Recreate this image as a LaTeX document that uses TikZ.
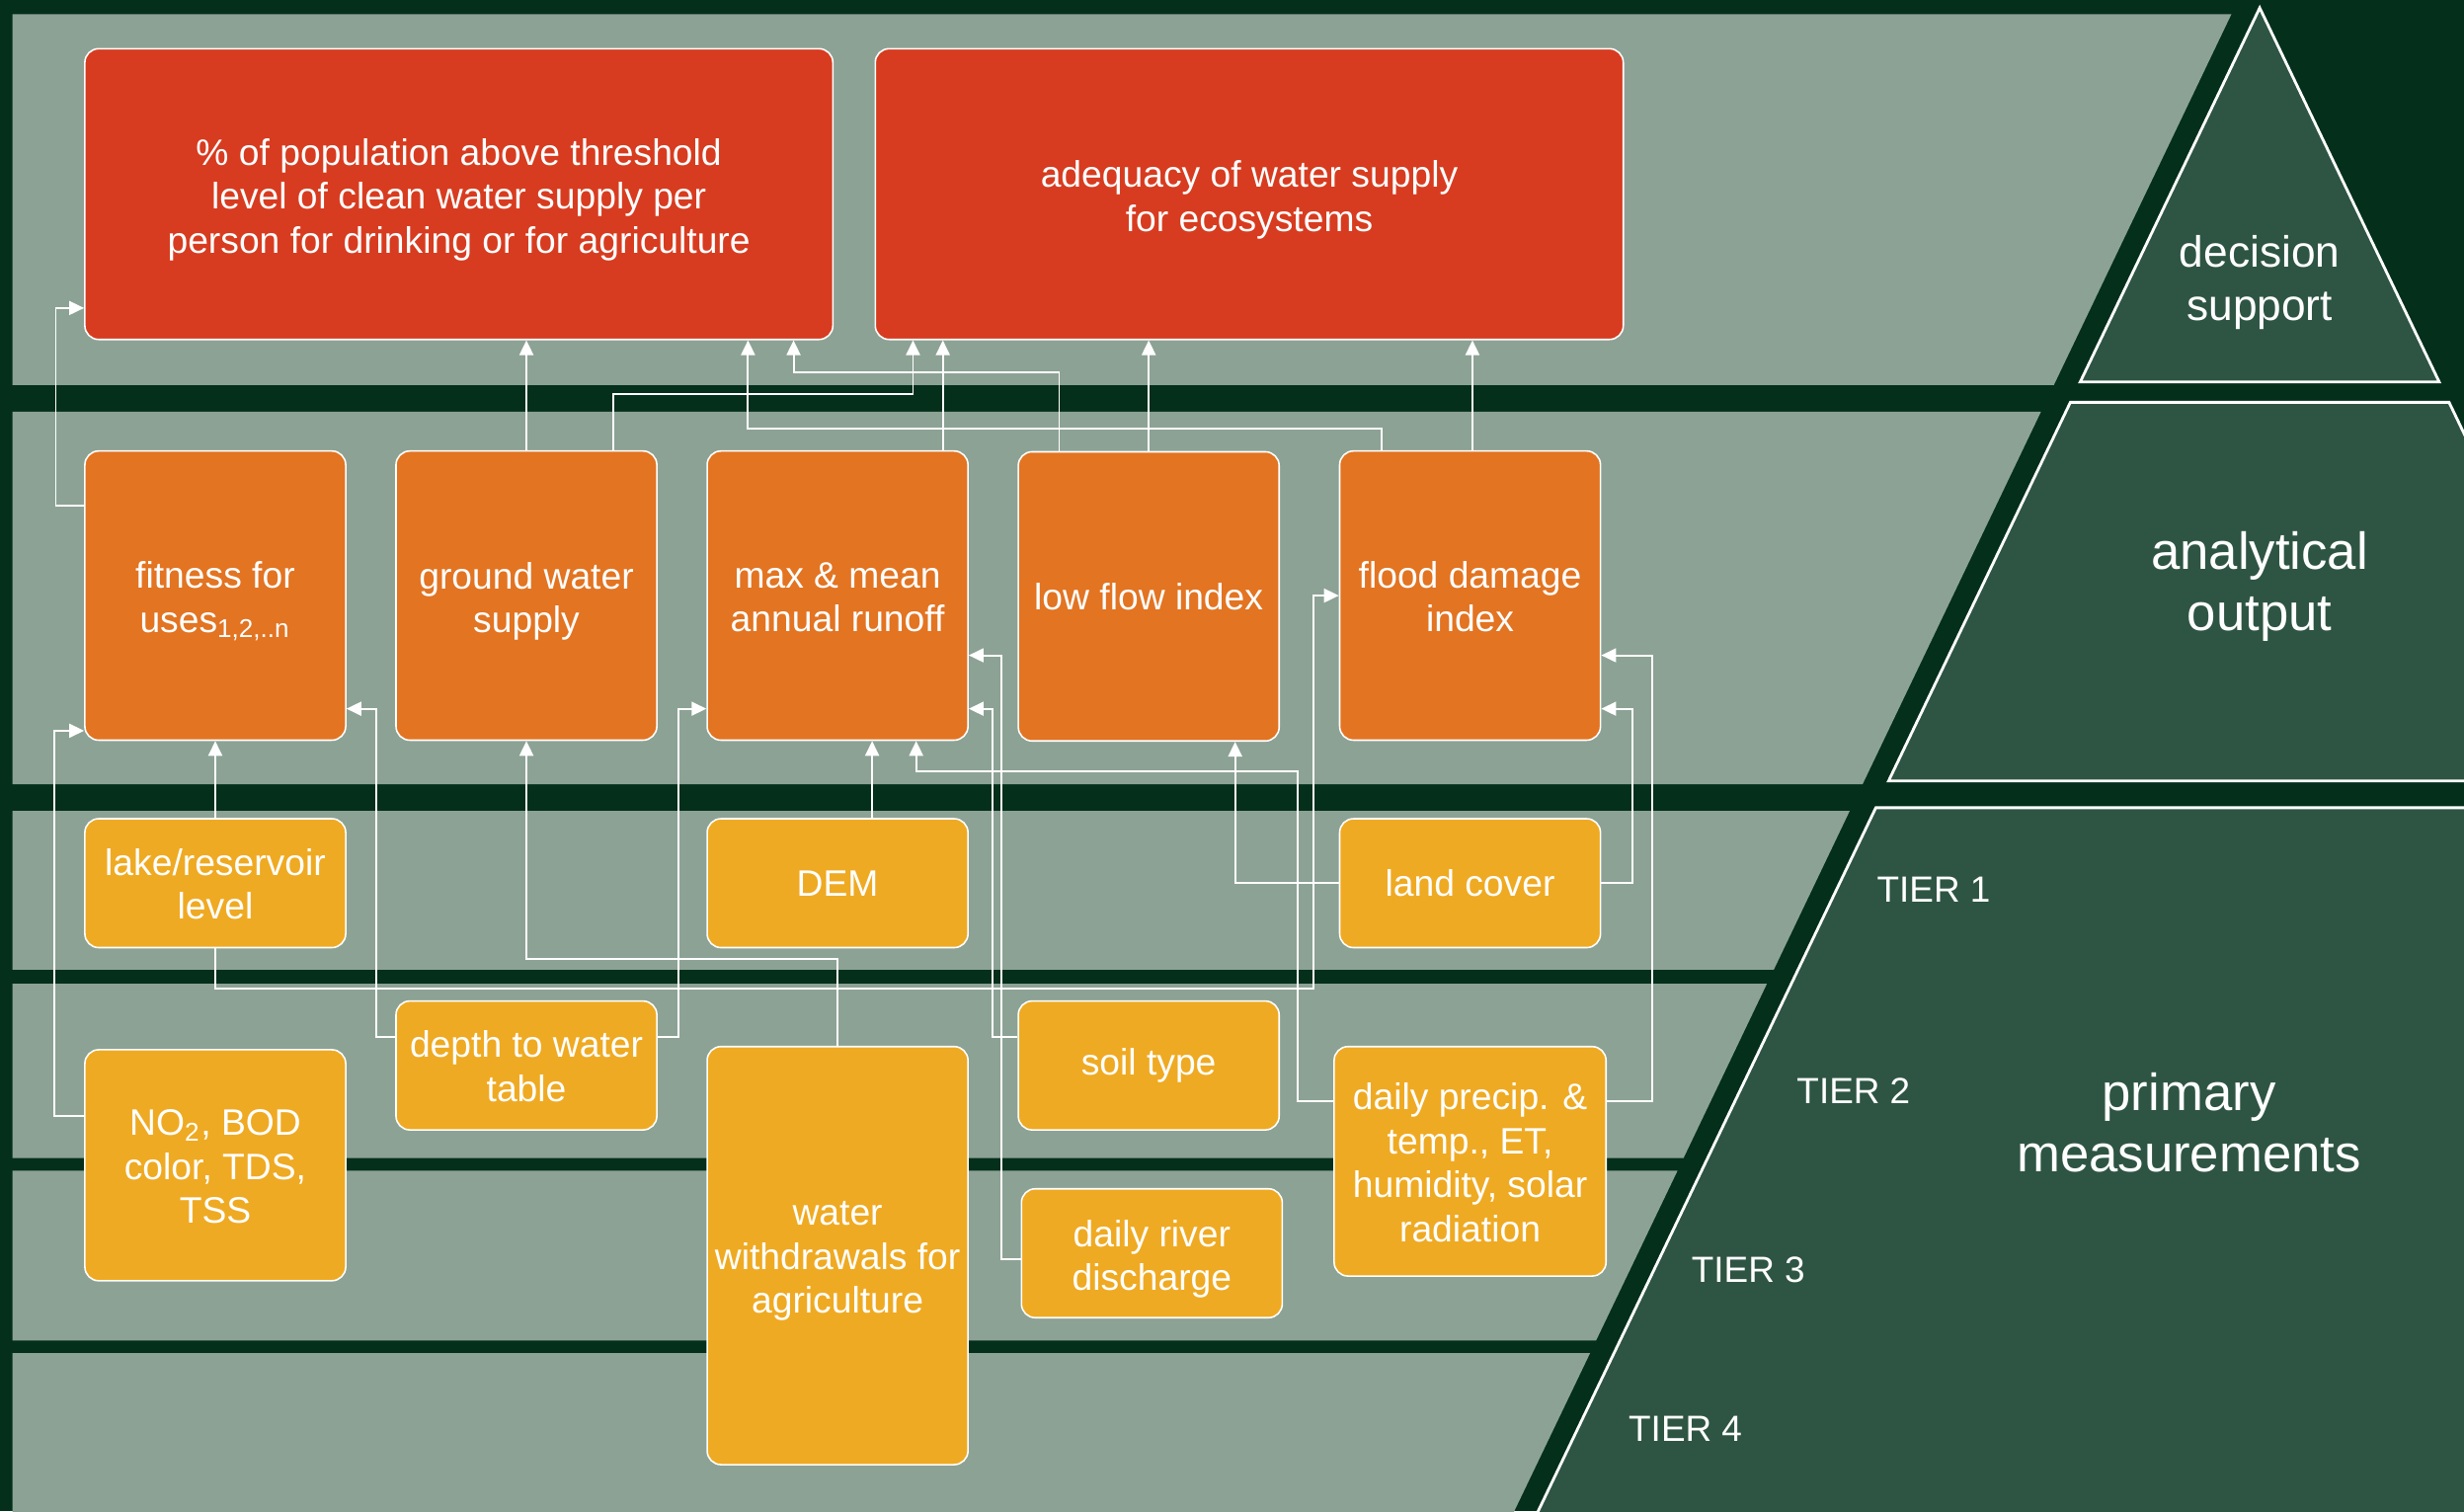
\documentclass[tikz,border=0pt]{standalone}
\usepackage{fontspec}
\setmainfont{Liberation Sans}
\usetikzlibrary{arrows.meta}
\definecolor{chalk}{RGB}{3,47,27}
\definecolor{bandgrey}{RGB}{140,162,149}
\definecolor{pyrgreen}{RGB}{46,85,67}
\definecolor{boxred}{RGB}{215,60,32}
\definecolor{boxorange}{RGB}{226,116,34}
\definecolor{boxyellow}{RGB}{239,170,35}
\newcommand{\lift}[1][11pt]{\rule{0pt}{#1}}

\begin{document}
\begin{tikzpicture}[x=0.15912mm, y=-0.15912mm,
  band/.style={fill=bandgrey},
  pyr/.style={draw=white, line width=0.8pt, fill=pyrgreen},
  box/.style={draw=white, line width=0.45pt, rounded corners=1.4mm, text=white, align=center, inner sep=0pt, font=\fontsize{10.6}{12.7}\selectfont},
  topbox/.style={box, fill=boxred, minimum width=75.74mm, minimum height=29.44mm},
  midbox/.style={box, fill=boxorange, minimum width=26.41mm, minimum height=29.28mm},
  lowbox/.style={box, fill=boxyellow, minimum width=26.41mm, minimum height=13.05mm},
  wire/.style={draw=white, line width=0.55pt, -{Triangle[length=1.5mm, width=1.4mm]}},
  tier/.style={text=white, anchor=west, inner sep=0pt, font=\fontsize{10.5}{12.6}\selectfont},
  level/.style={text=white, align=center, font=\fontsize{15}{17.6}\selectfont}]

\clip (0,0) rectangle (1568,961.6);
\fill [chalk] (0,0) rectangle (1568,961.6);

\fill [band] (8,9) -- (1420,9) -- (1307,245) -- (8,245) -- cycle;
\fill [band] (8,262) -- (1298.8,262) -- (1185.3,499) -- (8,499) -- cycle;
\fill [band] (8,516) -- (1177.1,516) -- (1128.8,617) -- (8,617) -- cycle;
\fill [band] (8,626) -- (1124.4,626) -- (1071.3,737) -- (8,737) -- cycle;
\fill [band] (8,745) -- (1067.5,745) -- (1015.7,853) -- (8,853) -- cycle;
\fill [band] (8,861) -- (1011.9,861) -- (959.6,970) -- (8,970) -- cycle;

\draw [pyr] (1438,5) -- (1323.8,243) -- (1552.2,243) -- cycle;
\draw [pyr] (1317.5,256) -- (1558.5,256) -- (1674,497) -- (1201.8,497) -- cycle;
\draw [pyr] (1193.7,514) -- (1682,514) -- (1900,970) -- (974.8,970) -- cycle;

\node [level, font=\fontsize{12.6}{15.4}\selectfont] (decide) at (1438,180) {decision\\support};
\node [level] (analytic) at (1438,373) {analytical\\output};
\node [level] (primary) at (1393,714.5) {primary\\measurements};
\node [tier] (t1) at (1194,566) {TIER 1};
\node [tier] (t2) at (1143,694) {TIER 2};
\node [tier] (t3) at (1076,808) {TIER 3};
\node [tier] (t4) at (1036,909) {TIER 4};

\node [topbox] (pop) at (292,123.5) {\lift\% of population above threshold\\level of clean water supply per\\person for drinking or for agriculture};
\node [topbox] (eco) at (795,123.5) {\lift adequacy of water supply\\for ecosystems};

\node [midbox] (fit) at (137,379) {\lift fitness for\\uses\textsubscript{1,2,..n}};
\node [midbox] (gw) at (335,379) {\lift ground water\\supply};
\node [midbox] (runoff) at (533,379) {\lift[8.3pt]max \& mean\\annual runoff};
\node [midbox] (lowflow) at (731,379.5) {low flow index};
\node [midbox] (flood) at (935.5,379) {\lift[8.3pt]flood damage\\index};

\node [lowbox] (lake) at (137,562) {\lift[8.3pt]lake/reservoir\\level};
\node [lowbox] (dem) at (533,562) {DEM};
\node [lowbox] (land) at (935.5,562) {land cover};
\node [lowbox] (depth) at (335,678) {\lift[8.3pt]depth to water\\table};
\node [lowbox] (soil) at (731,678) {soil type};
\node [lowbox] (river) at (733,797.5) {\lift daily river\\discharge};
\node [lowbox, minimum height=23.39mm] (no2) at (137,741.5) {\lift[8.3pt]NO\textsubscript{2}, BOD\\color, TDS,\\TSS};
\node [lowbox, minimum height=42.33mm] (withdraw) at (533,799) {\lift[10pt]water\\withdrawals for\\agriculture};
\node [lowbox, minimum width=27.53mm, minimum height=23.23mm] (precip) at (935.5,739) {\lift[8.3pt]daily precip. \&\\temp., ET,\\humidity, solar\\radiation};

\draw [wire] (fit.west |- 0,322) -- ++(-18,0) |- (pop.west |- 0,196);
\draw [wire] (gw.north) -- (pop.south -| gw.north);
\draw [wire] (gw.north -| 390,0) |- (581,251) -- (eco.south -| 581,0);
\draw [wire] (runoff.north -| 600,0) -- (eco.south -| 600,0);
\draw [wire] (lowflow.north -| 674,0) |- (505,237) -- (pop.south -| 505,0);
\draw [wire] (lowflow.north) -- (eco.south -| lowflow.north);
\draw [wire] (flood.north -| 879,0) |- (476,273) -- (pop.south -| 476,0);
\draw [wire] (flood.north -| 937,0) -- (eco.south -| 937,0);

\draw [wire] (lake.north) -- (fit.south);
\draw [wire] (lake.south) |- (836,629) |- (flood.west |- 0,379);
\draw [wire] (no2.west |- 0,710) -- ++(-19,0) |- (fit.west |- 0,465);
\draw [wire] (depth.west |- 0,660) -- ++(-12,0) |- (fit.east |- 0,451);
\draw [wire] (depth.east |- 0,660) -- ++(13,0) |- (runoff.west |- 0,451);
\draw [wire] (withdraw.north) |- (gw.south |- 0,610) -- (gw.south);
\draw [wire] (dem.north -| 555,0) -- (runoff.south -| 555,0);
\draw [wire] (precip.west |- 0,701) -- ++(-23,0) |- (583,491) -- (runoff.south -| 583,0);
\draw [wire] (soil.west |- 0,660) -- ++(-16,0) |- (runoff.east |- 0,451);
\draw [wire] (river.west |- 0,801) -- ++(-12,0) |- (runoff.east |- 0,417);
\draw [wire] (land.west) -| (lowflow.south -| 786,0);
\draw [wire] (land.east) -- ++(20,0) |- (flood.east |- 0,451);
\draw [wire] (precip.east |- 0,701) -- ++(29,0) |- (flood.east |- 0,417);
\end{tikzpicture}
\end{document}
